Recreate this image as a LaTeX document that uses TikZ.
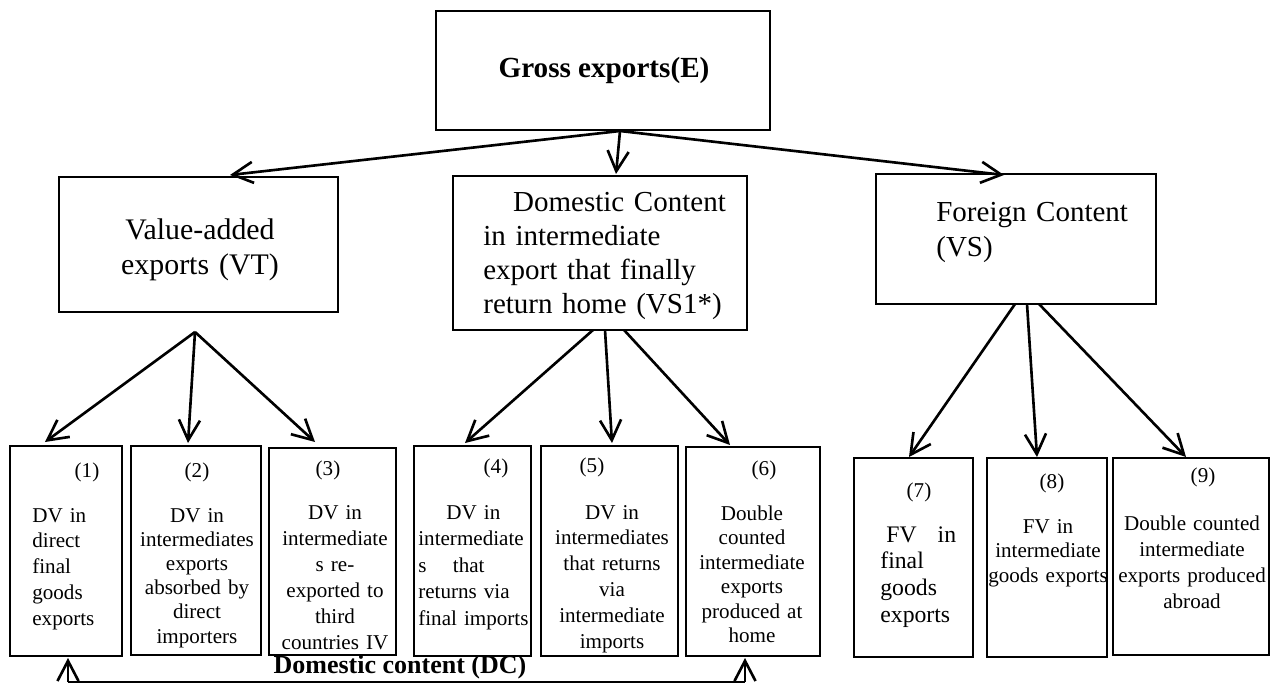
\documentclass[tikz,border=0pt]{standalone}
\usepackage{fontspec}
\setmainfont{Liberation Serif}
\usetikzlibrary{arrows.meta}
\usetikzlibrary{fit}
\usetikzlibrary{calc}
\tikzset {
  % boxes of the tree
  mainbox/.style = {draw, line width=1pt, inner sep=0pt, outer sep=0pt},
  leafbox/.style = {draw, line width=1pt, inner sep=0pt, outer sep=0pt},
  % texts in the boxes
  grosstxt/.style = {inner sep=0pt, anchor=base, font=\fontsize{16.6}{19}\selectfont\bfseries},
  midtxt/.style = {inner sep=0pt, text width=5.6cm, font=\fontsize{16.5}{#1}\selectfont},
  leaftxt/.style = {inner sep=0pt, text width=3.2cm, align=center, anchor=base, font=\fontsize{12}{#1}\selectfont},
  leaftxt/.default = 14.2,
  numlabel/.style = {inner sep=0pt, font=\fontsize{12}{14}\selectfont},
  dclabel/.style = {inner sep=0pt, font=\fontsize{14.8}{17}\selectfont\bfseries},
  % connectors
  link/.style = {-{Straight Barb[length=11.5pt,width=12pt]}, line width=1.5pt},
  bar/.style = {line width=0.7pt},
}
\begin{document}
\begin{tikzpicture}[x=0.02cm, y=-0.02cm]
  \useasboundingbox (0,0) rectangle (1273,685);

  % top
  \node[mainbox, fit={(436,11) (770,130)}] (gross) {};
  \node[grosstxt] (grosstxt) at (604,78) {Gross exports(E)};

  % second level
  \node[mainbox, fit={(59,177) (338,312)}] (vt) {};
  \node[midtxt=19.9, align=center, anchor=base, font=\fontsize{17}{19.9}\selectfont] (vttxt) at (200,240) {Value-added\\exports (VT)};

  \node[mainbox, fit={(453,176) (747,330)}] (vsone) {};
  \node[midtxt=19.2, align=left, anchor=base west] (vsonetxt) at (483,212)
    {\hspace*{17pt}Domestic Content\\in intermediate\\export that finally\\return home (VS1*)};

  \node[mainbox, fit={(876,174) (1156,304)}] (vs) {};
  \node[midtxt=19.8, align=left, anchor=base west] (vstxt) at (936,222) {Foreign Content\\(VS)};

  % leaves
  \node[leafbox, fit={(10,446) (122,656)}] (l1) {};
  \node[leafbox, fit={(131,446) (261,655)}] (l2) {};
  \node[leafbox, fit={(269,448) (396,655)}] (l3) {};
  \node[leafbox, fit={(414,446) (531,656)}] (l4) {};
  \node[leafbox, fit={(541,446) (678,656)}] (l5) {};
  \node[leafbox, fit={(686,447) (820,656)}] (l6) {};
  \node[leafbox, fit={(854,458) (973,657)}] (l7) {};
  \node[leafbox, fit={(987,458) (1107,657)}] (l8) {};
  \node[leafbox, fit={(1113,458) (1269,655)}] (l9) {};

  \node[numlabel] (n1) at (87,472) {(1)};
  \node[numlabel] (n2) at (197,472) {(2)};
  \node[numlabel] (n3) at (328,470) {(3)};
  \node[numlabel] (n4) at (496,468) {(4)};
  \node[numlabel] (n5) at (592,467) {(5)};
  \node[numlabel] (n6) at (764,470) {(6)};
  \node[numlabel] (n7) at (919,492) {(7)};
  \node[numlabel] (n8) at (1052,483) {(8)};
  \node[numlabel] (n9) at (1203,477) {(9)};

  \node[leaftxt=14.7, align=left, anchor=base west] (t1) at (32,522)
    {DV in\\direct\\final\\goods\\exports};
  \node[leaftxt=13.8] (t2) at (197,522)
    {DV in\\intermediates\\exports\\absorbed by\\direct\\importers};
  \node[leaftxt=14.8] (t3) at (335,519)
    {DV in\\intermediate\\s re-\\exported to\\third\\countries IV};
  \node[leaftxt=15.1, align=left, anchor=base west] (t4) at (418,519)
    {\hspace*{16pt}DV in\\intermediate\\s\hspace{15pt}that\\returns via\\final imports};
  \node[leaftxt=14.7] (t5) at (612,519)
    {DV in\\intermediates\\that returns\\via\\intermediate\\imports};
  \node[leaftxt=14] (t6) at (752,520)
    {Double\\counted\\intermediate\\exports\\produced at\\home};
  \node[leaftxt=15.2, align=left, anchor=base west, font=\fontsize{13.5}{15.2}\selectfont] (t7) at (880,542)
    {\hspace*{3.4pt}FV\hspace{12pt}in\\final\\goods\\exports};
  \node[leaftxt=14.2] (t8) at (1048,533)
    {FV in\\intermediate\\goods exports};
  \node[leaftxt=14.8] (t9) at (1192,530)
    {Double counted\\intermediate\\exports produced\\abroad};

  % from gross exports
  \draw[link] ($(gross.south)+(17,1)$) -- ($(vt.north)+(31.5,-2)$);
  \draw[link] ($(gross.south)+(17,1)$) -- ($(vsone.north)+(16,-2)$);
  \draw[link] ($(gross.south)+(17,1)$) -- ($(vs.north)+(-12,1)$);

  % value-added exports
  \coordinate (vtfork) at ($(vt.south)+(-3.5,20)$);
  \foreach \leaf/\dx/\dy in {l1/-21/-4, l2/-8/-3, l3/-17.5/-6}
    \draw[link] (vtfork) -- ($(\leaf.north)+(\dx,\dy)$);

  % domestic content returning home
  \draw[link] ($(vsone.south)+(-7,0)$) -- ($(l4.north)+(-7.5,-3)$);
  \draw[link] ($(vsone.south)+(5,0)$) -- ($(l5.north)+(2.5,-3)$);
  \draw[link] ($(vsone.south)+(24,0)$) -- ($(l6.north)+(-23,-2)$);

  % foreign content
  \draw[link] ($(vs.south)+(-1,0)$) -- ($(l7.north)+(-4.5,-1)$);
  \draw[link] ($(vs.south)+(11,0)$) -- ($(l8.north)+(-10,-1)$);
  \draw[link] ($(vs.south)+(23,0)$) -- ($(l9.north)+(-5,-1)$);

  % domestic content bracket
  \coordinate (dcleft) at ($(l1.south)+(2,26)$);
  \coordinate (dcright) at ($(l6.south)+(-8,26)$);
  \draw[bar] (dcleft) -- (dcright);
  \draw[link] (dcleft) -- ($(l1.south)+(2,2)$);
  \draw[link] (dcright) -- ($(l6.south)+(-8,2)$);
  \node[dclabel] (dctxt) at (400,667) {Domestic content (DC)};
\end{tikzpicture}
\end{document}
